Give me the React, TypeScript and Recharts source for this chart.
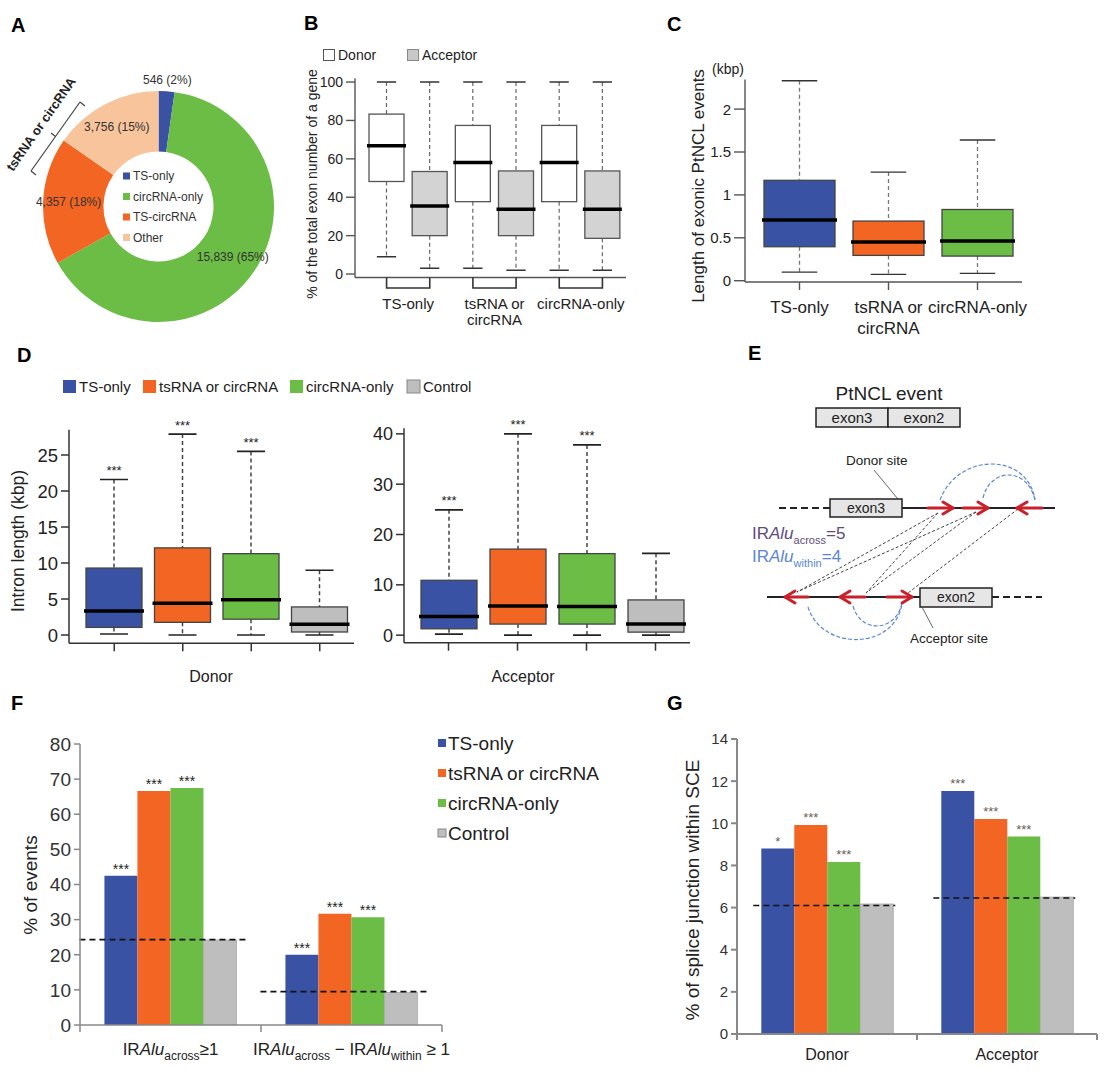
import React from "react";
import { PieChart, Pie, Cell, BarChart, Bar, XAxis, YAxis, LabelList } from "recharts";

const FONT = "'Liberation Sans', Arial, Helvetica, sans-serif";
const BLUE = "#3A52A3";
const ORANGE = "#F26522";
const GREEN = "#6BBD46";
const GRAY = "#BEBEBE";
const PEACH = "#F8C49B";
const RED = "#C9212B";
const INK = "#222";

// A: PtNCL event classes
const pieNames = ["TS-only", "circRNA-only", "TS-circRNA", "Other"];
const pieValues = [546, 15839, 4357, 3756];
const pieColors = [BLUE, GREEN, ORANGE, PEACH];

// series shared by D, F, G
const seriesNames = ["TS-only", "tsRNA or circRNA", "circRNA-only", "Control"];
const seriesColors = [BLUE, ORANGE, GREEN, GRAY];

// B: % of the total exon number of a gene
const bGroups = ["TS-only", "tsRNA or circRNA", "circRNA-only"];
const bSites = ["Donor", "Acceptor"];
const bMin = [9, 3, 3, 2, 2, 2];
const bQ1 = [48.2, 20, 37.7, 20, 37.7, 18.6];
const bMed = [66.8, 35.5, 58.1, 33.7, 58.1, 33.7];
const bQ3 = [83.3, 53.4, 77.4, 53.7, 77.4, 53.7];
const bMax = [100, 100, 100, 100, 100, 100];
const bTicks = [0, 20, 40, 60, 80, 100];

// C: length of exonic PtNCL events (kbp)
const cCats = ["TS-only", "tsRNA or circRNA", "circRNA-only"];
const cMin = [0.1, 0.074, 0.085];
const cQ1 = [0.396, 0.295, 0.287];
const cMed = [0.707, 0.45, 0.462];
const cQ3 = [1.17, 0.695, 0.83];
const cMax = [2.33, 1.266, 1.64];
const cTicks = [0, 0.5, 1, 1.5, 2];

// D: intron length (kbp)
const dDonorMin = [0.14, 0, 0, 0];
const dDonorQ1 = [1.06, 1.76, 2.2, 0.42];
const dDonorMed = [3.33, 4.4, 4.9, 1.5];
const dDonorQ3 = [9.3, 12.1, 11.3, 3.9];
const dDonorMax = [21.6, 27.9, 25.5, 9.0];
const dAccMin = [0.2, 0, 0, 0];
const dAccQ1 = [1.26, 2.2, 2.2, 0.6];
const dAccMed = [3.7, 5.8, 5.7, 2.2];
const dAccQ3 = [10.9, 17.1, 16.2, 7.0];
const dAccMax = [24.9, 40, 37.8, 16.25];
const dStars = ["***", "***", "***", ""];
const dDonorTicks = [0, 5, 10, 15, 20, 25];
const dAccTicks = [0, 10, 20, 30, 40];

// F: % of events
const fCats = ["IRAlu_{across}≥1", "IRAlu_{across} − IRAlu_{within} ≥ 1"];
const fTS = [42.5, 20.0];
const fTsOr = [66.6, 31.7];
const fCirc = [67.5, 30.7];
const fCtrl = [24.2, 9.3];
const fBaseline = [24.3, 9.5];
const fStarsTS = ["***", "***"];
const fStarsTsOr = ["***", "***"];
const fStarsCirc = ["***", "***"];
const fTicks = [0, 10, 20, 30, 40, 50, 60, 70, 80];

// G: % of splice junction within SCE
const gCats = ["Donor", "Acceptor"];
const gTS = [8.8, 11.53];
const gTsOr = [9.92, 10.2];
const gCirc = [8.16, 9.37];
const gCtrl = [6.17, 6.5];
const gBaseline = [6.1, 6.45];
const gStarsTS = ["*", "***"];
const gStarsTsOr = ["***", "***"];
const gStarsCirc = ["***", "***"];
const gTicks = [0, 2, 4, 6, 8, 10, 12, 14];

// plot frames (page coordinates)
const fB = { L: 290, T: 40, W: 345, H: 300, x0: 355, x1: 626, y0: 78.2, y1: 277.5 };
const fC = { L: 650, T: 40, W: 400, H: 300, x0: 745, x1: 1022, y0: 79.5, y1: 282 };
const fDl = { L: 0, T: 400, W: 360, H: 260, x0: 69, x1: 354, y0: 429.8, y1: 643.3 };
const fDr = { L: 360, T: 400, W: 340, H: 260, x0: 404, x1: 690, y0: 428.3, y1: 642.7 };
const fF = { L: 0, T: 700, W: 450, H: 371, x0: 80, x1: 442, y0: 744, y1: 1025 };
const fG = { L: 660, T: 700, W: 453, H: 371, x0: 737, x1: 1097, y0: 739, y1: 1034 };

const boxRows = (names: string[], mn: number[], q1: number[], md: number[], q3: number[], mx: number[], stars?: string[]) =>
  names.map((name, i) => ({
    name,
    base: mn[i],
    lw: q1[i] - mn[i],
    lb: md[i] - q1[i],
    ub: q3[i] - md[i],
    uw: mx[i] - q3[i],
    star: stars ? stars[i] : "",
  }));

const splitLabel = (s: string) => {
  const k = s.indexOf(" or ");
  return k < 0 ? [s] : [s.slice(0, k + 3), s.slice(k + 4)];
};

// y tick label with an explicit font size
const yTickText = (size: number, fill: string) => (p: any) => (
  <text x={p.x} y={p.y} dy="0.36em" textAnchor="end" fontSize={size} fill={fill}>
    {p.payload.value}
  </text>
);

function boxShapes(look: any, names: string[]) {
  const idx = (p: any) => (typeof p.index === "number" ? p.index : names.indexOf(p.payload?.name));
  const capHalf = (p: any) => (p.width * look.cap) / 2;
  return {
    none: () => <g />,
    low: (p: any) => {
      const cx = p.x + p.width / 2;
      const yb = p.y + p.height;
      return (
        <g>
          <line x1={cx} x2={cx} y1={p.y} y2={yb} stroke={look.whisker} strokeWidth={look.ww} strokeDasharray={look.dash} />
          <line x1={cx - capHalf(p)} x2={cx + capHalf(p)} y1={yb} y2={yb} stroke={look.capColor} strokeWidth={look.cw} />
        </g>
      );
    },
    lowerBox: (p: any) => (
      <rect x={p.x} y={p.y} width={p.width} height={p.height} fill={look.fills[idx(p) % look.fills.length]} stroke={look.edge} strokeWidth={look.ew} />
    ),
    upperBox: (p: any) => (
      <g>
        <rect x={p.x} y={p.y} width={p.width} height={p.height} fill={look.fills[idx(p) % look.fills.length]} stroke={look.edge} strokeWidth={look.ew} />
        <line x1={p.x - 2} x2={p.x + p.width + 2} y1={p.y + p.height} y2={p.y + p.height} stroke="#000" strokeWidth={look.median} />
      </g>
    ),
    high: (p: any) => {
      const cx = p.x + p.width / 2;
      return (
        <g>
          <line x1={cx} x2={cx} y1={p.y} y2={p.y + p.height} stroke={look.whisker} strokeWidth={look.ww} strokeDasharray={look.dash} />
          <line x1={cx - capHalf(p)} x2={cx + capHalf(p)} y1={p.y} y2={p.y} stroke={look.capColor} strokeWidth={look.cw} />
        </g>
      );
    },
  };
}

function BoxPlot(props: any) {
  const { f, rows, domain, ticks, look, pad, barSize, yFont, ySize, axisStroke, axisW, xTick, xTickSize, xTickLine, starFont, starGap } = props;
  const sh = boxShapes(look, rows.map((r: any) => r.name));
  return (
    <div style={{ position: "absolute", left: f.L, top: f.T }}>
      <BarChart
        width={f.W}
        height={f.H}
        data={rows}
        barSize={barSize}
        margin={{ top: f.y0 - f.T, right: f.L + f.W - f.x1, bottom: 0, left: 0 }}
      >
        <XAxis
          dataKey="name"
          interval={0}
          padding={pad}
          height={f.T + f.H - f.y1}
          axisLine={{ stroke: axisStroke, strokeWidth: axisW }}
          tickLine={xTickLine}
          tickSize={xTickSize}
          tickMargin={0}
          tick={xTick}
        />
        <YAxis
          type="number"
          domain={domain}
          ticks={ticks}
          allowDataOverflow
          interval={0}
          width={f.x0 - f.L}
          axisLine={{ stroke: axisStroke, strokeWidth: axisW }}
          tickLine={{ stroke: axisStroke, strokeWidth: axisW }}
          tickSize={ySize}
          tickMargin={3}
          tick={yTickText(yFont, INK)}
        />
        <Bar dataKey="base" stackId="box" shape={sh.none} isAnimationActive={false} />
        <Bar dataKey="lw" stackId="box" shape={sh.low} isAnimationActive={false} />
        <Bar dataKey="lb" stackId="box" shape={sh.lowerBox} isAnimationActive={false} />
        <Bar dataKey="ub" stackId="box" shape={sh.upperBox} isAnimationActive={false} />
        <Bar dataKey="uw" stackId="box" shape={sh.high} isAnimationActive={false}>
          <LabelList
            dataKey="star"
            content={(p: any) =>
              p.value ? (
                <text x={p.x + p.width / 2} y={p.y - starGap} textAnchor="middle" fontSize={starFont} fill={INK}>
                  {p.value}
                </text>
              ) : null
            }
          />
        </Bar>
      </BarChart>
    </div>
  );
}

function RichText({ text, x, y, size, sub, anchor, fill }: any) {
  const parts = text.split(/(Alu|_\{[^}]*\})/).filter((s: string) => s.length > 0);
  const shift = size * 0.3;
  let down = false;
  return (
    <text x={x} y={y} fontSize={size} textAnchor={anchor} fill={fill}>
      {parts.map((p: string, i: number) => {
        if (p.startsWith("_{")) {
          const dy = down ? 0 : shift;
          down = true;
          return (
            <tspan key={i} dy={dy} fontSize={sub}>
              {p.slice(2, -1)}
            </tspan>
          );
        }
        const dy = down ? -shift : 0;
        down = false;
        return (
          <tspan key={i} dy={dy} fontStyle={p === "Alu" ? "italic" : undefined}>
            {p}
          </tspan>
        );
      })}
    </text>
  );
}

// bars with dashed control baseline
function GroupBars(props: any) {
  const { f, rows, ticks, yFont, axisStroke, axisW, ext, labelDy, labelFont, labelSub, edgeLen, starFont, starGap, starFill, dashW } = props;
  const half = (f.x1 - f.x0) / rows.length / 2;
  const n = rows.length;
  const tick = (p: any) => (
    <g>
      <line x1={p.x - half} x2={p.x - half} y1={p.y} y2={p.y + edgeLen} stroke={axisStroke} strokeWidth={axisW} />
      {p.index === n - 1 && <line x1={p.x + half} x2={p.x + half} y1={p.y} y2={p.y + edgeLen} stroke={axisStroke} strokeWidth={axisW} />}
      <RichText text={p.payload.value} x={p.x} y={p.y + labelDy} size={labelFont} sub={labelSub} anchor="middle" fill={INK} />
    </g>
  );
  const ctrlShape = (p: any) => {
    const unit = p.height / p.payload.s3;
    const yb = p.y + p.height - p.payload.base * unit;
    return (
      <g>
        <rect x={p.x} y={p.y} width={p.width} height={p.height} fill={GRAY} stroke="#aaa" strokeWidth={0.8} />
        <line x1={p.x - 3 * p.width - ext[0]} x2={p.x + p.width + ext[1]} y1={yb} y2={yb} stroke="#111" strokeWidth={dashW} strokeDasharray="6 4" />
      </g>
    );
  };
  const star = (p: any) =>
    p.value ? (
      <text x={p.x + p.width / 2} y={p.y - starGap} textAnchor="middle" fontSize={starFont} fill={starFill}>
        {p.value}
      </text>
    ) : null;
  return (
    <div style={{ position: "absolute", left: f.L, top: f.T }}>
      <BarChart
        width={f.W}
        height={f.H}
        data={rows}
        barGap={0}
        barCategoryGap="13.5%"
        margin={{ top: f.y0 - f.T, right: f.L + f.W - f.x1, bottom: 0, left: 0 }}
      >
        <XAxis
          dataKey="name"
          interval={0}
          height={f.T + f.H - f.y1}
          axisLine={{ stroke: axisStroke, strokeWidth: axisW }}
          tickLine={false}
          tickSize={0}
          tickMargin={0}
          tick={tick}
        />
        <YAxis
          type="number"
          domain={[ticks[0], ticks[ticks.length - 1]]}
          ticks={ticks}
          allowDataOverflow
          interval={0}
          width={f.x0 - f.L}
          axisLine={{ stroke: axisStroke, strokeWidth: axisW }}
          tickLine={{ stroke: axisStroke, strokeWidth: axisW }}
          tickSize={6}
          tickMargin={3}
          tick={yTickText(yFont, "#333")}
        />
        <Bar dataKey="s0" fill={seriesColors[0]} isAnimationActive={false}>
          <LabelList dataKey="t0" content={star} />
        </Bar>
        <Bar dataKey="s1" fill={seriesColors[1]} isAnimationActive={false}>
          <LabelList dataKey="t1" content={star} />
        </Bar>
        <Bar dataKey="s2" fill={seriesColors[2]} isAnimationActive={false}>
          <LabelList dataKey="t2" content={star} />
        </Bar>
        <Bar dataKey="s3" fill={seriesColors[3]} shape={ctrlShape} isAnimationActive={false} />
      </BarChart>
    </div>
  );
}

const pieLabel = (p: any) => {
  const RAD = Math.PI / 180;
  const r = p.percent < 0.05 ? p.outerRadius + 11 : 90;
  const x = p.cx + r * Math.cos(-p.midAngle * RAD);
  const y = p.cy + r * Math.sin(-p.midAngle * RAD);
  return (
    <text x={x} y={y} textAnchor="middle" dominantBaseline="central" fontSize={12} fill="#333">
      {`${Number(p.value).toLocaleString("en-US")} (${Math.round(p.percent * 100)}%)`}
    </text>
  );
};

const VTitle = ({ x, y, size, children }: any) => (
  <text transform={`translate(${x},${y}) rotate(-90)`} textAnchor="middle" dominantBaseline="central" fontSize={size} fill={INK}>
    {children}
  </text>
);

const Letter = ({ x, y, t }: any) => (
  <text x={x} y={y} fontSize={20} fontWeight="bold" fill="#000">
    {t}
  </text>
);

const arrow = (tail: number, head: number, y: number, key: string) => {
  const d = head > tail ? 1 : -1;
  return (
    <g key={key} stroke={RED} strokeWidth={3} strokeLinecap="round" strokeLinejoin="round" fill="none">
      <line x1={tail} y1={y} x2={head} y2={y} />
      <polyline points={`${head - 10 * d},${y - 6} ${head},${y} ${head - 10 * d},${y + 6}`} />
    </g>
  );
};

function PanelE() {
  const exonFill = "#E6E6E6";
  const across = [
    [938, 513, 797, 592],
    [976, 512, 797, 592],
    [938, 513, 866, 593],
    [976, 512, 866, 593],
    [1018, 509, 908, 593],
  ];
  return (
    <g>
      <text x={889} y={400} textAnchor="middle" fontSize={19} fill={INK}>PtNCL event</text>
      <rect x={816} y={408} width={72} height={19} fill={exonFill} stroke={INK} strokeWidth={1.5} />
      <rect x={888} y={408} width={72} height={19} fill={exonFill} stroke={INK} strokeWidth={1.5} />
      <text x={852} y={423} textAnchor="middle" fontSize={15} fill={INK}>exon3</text>
      <text x={924} y={423} textAnchor="middle" fontSize={15} fill={INK}>exon2</text>

      <text x={846} y={465} fontSize={13.5} fill={INK}>Donor site</text>
      <line x1={874} y1={470} x2={902} y2={504} stroke="#444" strokeWidth={0.8} />

      <line x1={779} y1={508} x2={830} y2={508} stroke={INK} strokeWidth={2} strokeDasharray="7 4" />
      <line x1={902} y1={508} x2={1055} y2={508} stroke={INK} strokeWidth={2} />
      <rect x={830} y={499} width={72} height={18} fill={exonFill} stroke={INK} strokeWidth={1.5} />
      <text x={866} y={513} textAnchor="middle" fontSize={14} fill={INK}>exon3</text>

      <line x1={767} y1={597} x2={920} y2={597} stroke={INK} strokeWidth={2} />
      <line x1={992} y1={597} x2={1042} y2={597} stroke={INK} strokeWidth={2} strokeDasharray="7 4" />
      <rect x={920} y={588} width={72} height={19} fill={exonFill} stroke={INK} strokeWidth={1.5} />
      <text x={956} y={602} textAnchor="middle" fontSize={14} fill={INK}>exon2</text>
      <text x={910} y={643} fontSize={13.5} fill={INK}>Acceptor site</text>
      <line x1={922} y1={607} x2={933} y2={628} stroke="#444" strokeWidth={0.8} />

      {across.map((l, i) => (
        <line key={i} x1={l[0]} y1={l[1]} x2={l[2]} y2={l[3]} stroke="#444" strokeWidth={1} strokeDasharray="3 2" />
      ))}
      <g stroke="#5B86D6" strokeWidth={1.2} strokeDasharray="4 2" fill="none">
        <path d="M940 500 C 958 452, 1028 452, 1035 500" />
        <path d="M983 498 C 990 468, 1027 466, 1035 500" />
        <path d="M808 607 C 822 652, 896 650, 902 603" />
        <path d="M853 606 C 861 634, 896 632, 902 603" />
      </g>
      {arrow(928, 953, 508, "t1")}
      {arrow(963, 988, 508, "t2")}
      {arrow(1042, 1017, 508, "t3")}
      {arrow(808, 785, 597, "b1")}
      {arrow(865, 840, 597, "b2")}
      {arrow(887, 912, 597, "b3")}

      <RichText text="IRAlu_{across}=5" x={752} y={539} size={17} sub={11} anchor="start" fill="#5E4A7E" />
      <RichText text="IRAlu_{within}=4" x={752} y={562} size={17} sub={11} anchor="start" fill="#5B86D6" />
    </g>
  );
}

export default function App() {
  const pieRows = pieNames.map((name, i) => ({ name, value: pieValues[i] }));

  const bNames = bGroups.flatMap((g) => bSites.map((s) => `${g}|${s}`));
  const bRows = boxRows(bNames, bMin, bQ1, bMed, bQ3, bMax);
  const bPad = { left: 10, right: 2 };
  const bHalf = (fB.x1 - fB.x0 - bPad.left - bPad.right) / bNames.length / 2;
  const bTick = (p: any) => {
    if (p.index % 2 === 1) return <g />;
    const x2 = p.x + 2 * bHalf;
    const mid = (p.x + x2) / 2;
    const lines = splitLabel(bGroups[p.index / 2]);
    return (
      <g>
        <polyline points={`${p.x},${p.y} ${p.x},${p.y + 10.5} ${x2},${p.y + 10.5} ${x2},${p.y}`} fill="none" stroke="#333" strokeWidth={1.6} />
        <text x={mid} y={p.y + 31} textAnchor="middle" fontSize={15} fill={INK}>
          {lines.map((l, i) => (
            <tspan key={i} x={mid} dy={i === 0 ? 0 : 16}>
              {l}
            </tspan>
          ))}
        </text>
      </g>
    );
  };

  const cRows = boxRows(cCats, cMin, cQ1, cMed, cQ3, cMax);
  const cTick = (p: any) => {
    const lines = splitLabel(p.payload.value);
    return (
      <text x={p.x} y={p.y + 23} textAnchor="middle" fontSize={17} fill={INK}>
        {lines.map((l, i) => (
          <tspan key={i} x={p.x} dy={i === 0 ? 0 : 21}>
            {l}
          </tspan>
        ))}
      </text>
    );
  };

  const dlRows = boxRows(seriesNames, dDonorMin, dDonorQ1, dDonorMed, dDonorQ3, dDonorMax, dStars);
  const drRows = boxRows(seriesNames, dAccMin, dAccQ1, dAccMed, dAccQ3, dAccMax, dStars);
  const emptyTick = () => <g />;

  const fRows = fCats.map((name, i) => ({
    name, s0: fTS[i], s1: fTsOr[i], s2: fCirc[i], s3: fCtrl[i], base: fBaseline[i],
    t0: fStarsTS[i], t1: fStarsTsOr[i], t2: fStarsCirc[i],
  }));
  const gRows = gCats.map((name, i) => ({
    name, s0: gTS[i], s1: gTsOr[i], s2: gCirc[i], s3: gCtrl[i], base: gBaseline[i],
    t0: gStarsTS[i], t1: gStarsTsOr[i], t2: gStarsCirc[i],
  }));

  const bLook = { fills: ["#FFFFFF", "#D3D3D3"], edge: "#555", ew: 1.3, whisker: "#666", ww: 1.2, dash: "4 3", capColor: "#333", cw: 1.6, cap: 0.55, median: 3.5 };
  const cLook = { fills: [BLUE, ORANGE, GREEN], edge: "#444", ew: 1.3, whisker: "#777", ww: 1.3, dash: "4 3", capColor: "#333", cw: 1.4, cap: 0.5, median: 3.5 };
  const dLook = { fills: seriesColors, edge: "#444", ew: 1.3, whisker: "#444", ww: 1.5, dash: "4 3", capColor: "#222", cw: 1.6, cap: 0.5, median: 3.5 };

  return (
    <div style={{ position: "absolute", left: 0, top: 0, width: 1113, height: 1071, background: "#fff", fontFamily: FONT, overflow: "hidden" }}>
      {/* A */}
      <div style={{ position: "absolute", left: 0, top: 60 }}>
        <PieChart width={320} height={290} margin={{ top: 0, right: 0, bottom: 0, left: 0 }}>
          <Pie
            data={pieRows}
            dataKey="value"
            nameKey="name"
            cx={158.5}
            cy={146.5}
            innerRadius={55}
            outerRadius={115.5}
            startAngle={90}
            endAngle={-270}
            stroke="none"
            label={pieLabel}
            labelLine={false}
            isAnimationActive={false}
          >
            {pieRows.map((r, i) => (
              <Cell key={r.name} fill={pieColors[i]} />
            ))}
          </Pie>
        </PieChart>
      </div>

      {/* B */}
      <BoxPlot f={fB} rows={bRows} domain={[-1.8, 102]} ticks={bTicks} look={bLook} pad={bPad} barSize={35}
        yFont={14} ySize={9} axisStroke="#555" axisW={1.4} xTick={bTick} xTickSize={0} xTickLine={false} starFont={13} starGap={4} />

      {/* C */}
      <BoxPlot f={fC} rows={cRows} domain={[-0.015, 2.345]} ticks={cTicks} look={cLook} pad={{ left: 10, right: 0 }} barSize={71}
        yFont={15} ySize={11} axisStroke="#555" axisW={1.4} xTick={cTick} xTickSize={8}
        xTickLine={{ stroke: "#555", strokeWidth: 1.4 }} starFont={13} starGap={4} />

      {/* D */}
      <BoxPlot f={fDl} rows={dlRows} domain={[-1.15, 28.5]} ticks={dDonorTicks} look={dLook} pad={{ left: 11, right: 0 }} barSize={56}
        yFont={18.5} ySize={8} axisStroke="#333" axisW={1.5} xTick={emptyTick} xTickSize={8}
        xTickLine={{ stroke: "#333", strokeWidth: 1.5 }} starFont={13} starGap={4.5} />
      <BoxPlot f={fDr} rows={drRows} domain={[-1.5, 41.1]} ticks={dAccTicks} look={dLook} pad={{ left: 10, right: 0 }} barSize={56}
        yFont={18} ySize={8} axisStroke="#333" axisW={1.5} xTick={emptyTick} xTickSize={8}
        xTickLine={{ stroke: "#333", strokeWidth: 1.5 }} starFont={13} starGap={4.5} />

      {/* F */}
      <GroupBars f={fF} rows={fRows} ticks={fTicks} yFont={19} axisStroke="#888" axisW={1.5} ext={[25, 9]}
        labelDy={30} labelFont={17} labelSub={12} edgeLen={7} starFont={14} starGap={2} starFill={INK} dashW={1.8} />

      {/* G */}
      <GroupBars f={fG} rows={gRows} ticks={gTicks} yFont={15} axisStroke="#888" axisW={2} ext={[8, 2]}
        labelDy={26} labelFont={16} labelSub={11} edgeLen={6} starFont={13} starGap={3} starFill="#6a6058" dashW={1.5} />

      {/* annotations */}
      <svg width={1113} height={1071} style={{ position: "absolute", left: 0, top: 0 }} fontFamily={FONT}>
        <Letter x={11} y={32} t="A" />
        <Letter x={304} y={30} t="B" />
        <Letter x={667} y={31} t="C" />
        <Letter x={17} y={362} t="D" />
        <Letter x={748} y={360} t="E" />
        <Letter x={11} y={710} t="F" />
        <Letter x={667} y={710} t="G" />

        {/* A legend and bracket */}
        {pieNames.map((n, i) => (
          <g key={n}>
            <rect x={123} y={172.5 + i * 20.5} width={7} height={7} fill={pieColors[i]} />
            <text x={133} y={176 + i * 20.5} dominantBaseline="central" fontSize={12} fill="#333">{n}</text>
          </g>
        ))}
        <g stroke="#444" strokeWidth={1.2} fill="none">
          <line x1={31} y1={171} x2={80} y2={102} />
          <line x1={31} y1={171} x2={36} y2={175} />
          <line x1={80} y1={102} x2={85} y2={106} />
          <line x1={55.5} y1={136.5} x2={51} y2={133} />
        </g>
        <text transform="translate(41,124) rotate(-55)" textAnchor="middle" dominantBaseline="central" fontSize={13} fontWeight="bold" fill={INK}>
          tsRNA or circRNA
        </text>

        {/* B legend and title */}
        <rect x={323.5} y={49.5} width={11} height={11} fill="#fff" stroke="#555" strokeWidth={1} />
        <text x={338} y={60} fontSize={14} fill={INK}>{bSites[0]}</text>
        <rect x={407.5} y={49.5} width={11} height={11} fill="#C8C8C8" stroke="#888" strokeWidth={1} />
        <text x={422} y={60} fontSize={14} fill={INK}>{bSites[1]}</text>
        <VTitle x={312} y={184} size={14}>% of the total exon number of a gene</VTitle>

        {/* C title */}
        <VTitle x={698} y={186} size={17}>Length of exonic PtNCL events</VTitle>
        <text x={712} y={74} fontSize={14} fill={INK}>(kbp)</text>

        {/* D legend and titles */}
        {seriesNames.map((n, i) => {
          const xs = [63, 143, 290, 407];
          return (
            <g key={n}>
              <rect x={xs[i]} y={380} width={13} height={13} fill={seriesColors[i]} stroke={i === 3 ? "#888" : "none"} />
              <text x={xs[i] + 16} y={391.5} fontSize={15} fill={INK}>{n}</text>
            </g>
          );
        })}
        <VTitle x={18} y={541} size={17.5}>Intron length (kbp)</VTitle>
        <text x={211} y={682} textAnchor="middle" fontSize={16} fill={INK}>Donor</text>
        <text x={523} y={682} textAnchor="middle" fontSize={16} fill={INK}>Acceptor</text>

        {/* F legend and title */}
        {seriesNames.map((n, i) => (
          <g key={n}>
            <rect x={438} y={739 + i * 30} width={8} height={8} fill={seriesColors[i]} stroke={i === 3 ? "#888" : "none"} />
            <text x={448} y={743 + i * 30} dominantBaseline="central" fontSize={19} fill={INK}>{n}</text>
          </g>
        ))}
        <VTitle x={30} y={885} size={19}>% of events</VTitle>

        {/* G title */}
        <VTitle x={692} y={890} size={19}>% of splice junction within SCE</VTitle>

        <PanelE />
      </svg>
    </div>
  );
}
